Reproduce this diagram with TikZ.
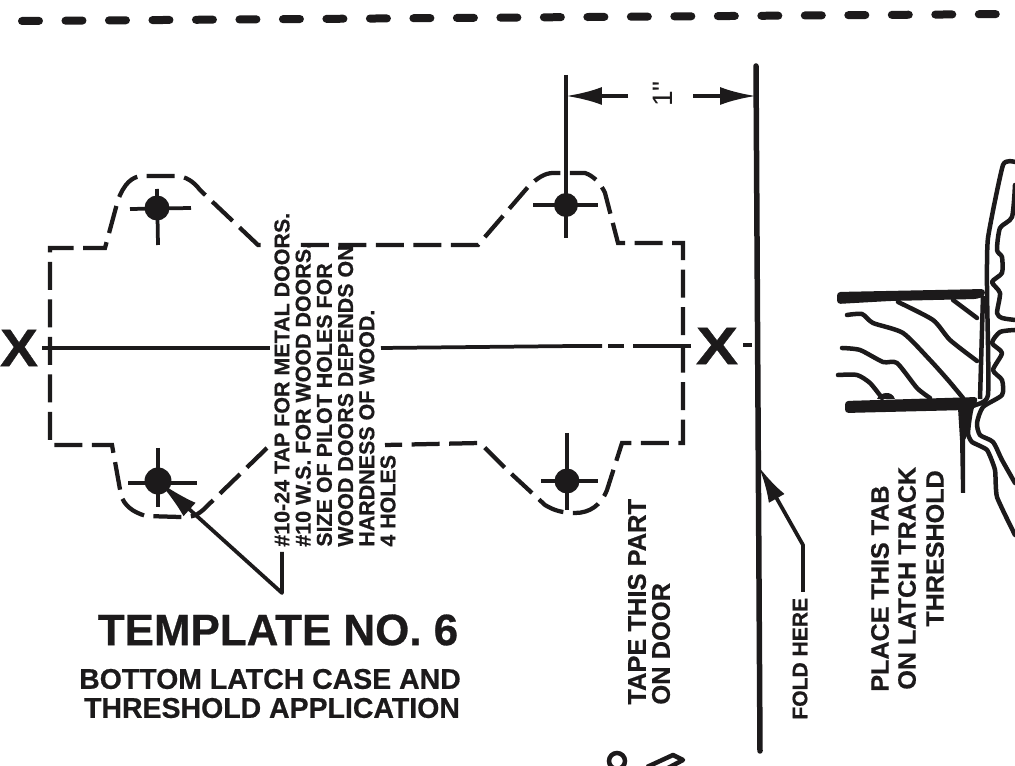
\documentclass[tikz,border=0pt]{standalone}
\usepackage{fontspec}
\setmainfont{Liberation Sans}[BoldFeatures={FakeBold=0.6}]
\newfontfamily\inchfont{Liberation Sans}[BoldFeatures={FakeBold=0.6}]
\usetikzlibrary{arrows.meta}
\definecolor{ink}{HTML}{1C1A1B}

\tikzset{
  outline/.style={ink, line width=0.085cm, dash pattern=on 0.56cm off 0.19cm},
  solid line/.style={ink, line width=0.075cm},
  profile/.style={ink, line width=0.09cm, line join=round, line cap=round},
  grain/.style={ink, line width=0.09cm, line cap=round},
  label/.style={ink, inner sep=0pt, rotate=90, font=\bfseries\fontsize{14.5pt}{15pt}\selectfont},
  note/.style={ink, inner sep=0pt, font=\bfseries\fontsize{16.2pt}{16pt}\selectfont},
  hole/.style={ink, inner sep=0pt, circle, fill},
  head/.style={-{Latex[length=0.72cm, width=0.36cm]}},
  mark x/.style={ink, inner sep=0pt, font=\bfseries\fontsize{30pt}{30pt}\selectfont},
}

\begin{document}
\begin{tikzpicture}[x=0.02cm, y=-0.02cm]
  \clip (0,0) rectangle (1015,766);
  \fill[white] (0,0) rectangle (1015,766);

  % holes
  \node [hole, minimum size=0.5cm](holea) at (157,208) {};
  \node [hole, minimum size=0.54cm](holeb) at (158,481) {};
  \node [hole, minimum size=0.48cm](holec) at (566,205) {};
  \node [hole, minimum size=0.5cm](holed) at (567,481) {};

  \draw[solid line] (130,209) -- (191,208) (157,189) -- (158,245);
  \draw[solid line] (128,483) -- (197,483) (158,448) -- (158,507);
  \draw[solid line] (533,205) -- (598,205) (566,75) -- (566,238);
  \draw[solid line] (541,481) -- (598,481) (567,433) -- (567,510);

  % fold line at the top
  \draw[ink, line width=0.16cm, line cap=round, dash pattern=on 0.34cm off 0.53cm] (22,21) -- (1015,14);

  % template outline
  \draw[outline] (267,448) -- (203,510) .. controls (195,517) and (190,517) .. (180,517)
    -- (146,516) .. controls (132,512) and (124,505) .. (121,495) -- (112,445) -- (50,445)
    -- (50,248) -- (105,248) -- (118,200) .. controls (124,184) and (132,176) .. (143,176)
    -- (175,176) .. controls (186,176) and (194,182) .. (200,190) -- (258,245) -- (268,245);
  \draw[outline] (303,247) -- (303,245) -- (478,245) -- (528,187) .. controls (537,178) and (545,173) .. (553,173)
    -- (585,173) .. controls (594,176) and (601,184) .. (605,193) -- (618,243) -- (683,243)
    -- (683,443) -- (622,443) -- (607,490) .. controls (601,505) and (590,513) .. (575,513)
    .. controls (562,513) and (553,510) .. (545,505) -- (505,468) -- (480,443) -- (385,445);

  % center line
  \coordinate (centera) at (42,348);
  \coordinate (centerb) at (270,348);
  \draw[solid line] (centera) -- (centerb);
  \draw[solid line] (381,348) -- (575,346) -- (602,346);
  \draw[solid line] (608,346) -- (624,346);
  \draw[solid line] (633,346) -- (691,346);
  \draw[solid line] (743,345) -- (752,345);
  \node [mark x, xscale=1.08](xa) at (19,348) {X};
  \node [mark x, xscale=1.2](xb) at (717,346) {X};

  % dimension
  \coordinate (edge) at (566,96);
  \coordinate (fold) at (756,96);
  \coordinate (dima) at (628,96);
  \coordinate (dimb) at (693,96);
  \draw[solid line, head] (dima) -- (edge);
  \draw[solid line, head] (dimb) -- (fold);
  \node [label, font=\inchfont\fontsize{16pt}{16pt}\selectfont](inch) at (663,94) {1"};
  \draw[ink, line width=0.11cm, line cap=round] (756,66) -- (760,751);

  % text
  \node [ink, inner sep=0pt, rotate=90, anchor=west, align=left, font=\bfseries\fontsize{12.2pt}{12.07pt}\selectfont](size) at (335,547)
    {\#10-24 TAP FOR METAL DOORS.\\ \#10 W.S. FOR WOOD DOORS.\\ SIZE OF PILOT HOLES FOR\\ WOOD DOORS DEPENDS ON\\ HARDNESS OF WOOD.\\ 4 HOLES};
  \node [note, font=\bfseries\fontsize{25pt}{25pt}\selectfont](title) at (278,630) {TEMPLATE NO. 6};
  \node [note](suba) at (270,679) {BOTTOM LATCH CASE AND};
  \node [note](subb) at (272,708) {THRESHOLD APPLICATION};
  \node [label, anchor=west](tapea) at (637,705) {TAPE THIS PART};
  \node [label, anchor=west](tapeb) at (661,705) {ON DOOR};
  \node [label, anchor=west, font=\bfseries\fontsize{12pt}{12pt}\selectfont](foldhere) at (800,720) {FOLD HERE};
  \node [label, anchor=west, font=\bfseries\fontsize{14.3pt}{15pt}\selectfont](placea) at (880,692) {PLACE THIS TAB};
  \node [label, anchor=west, font=\bfseries\fontsize{14.3pt}{15pt}\selectfont](placeb) at (907,690) {ON LATCH TRACK};
  \node [label, anchor=west, font=\bfseries\fontsize{14.3pt}{15pt}\selectfont](placec) at (935,627) {THRESHOLD};

  % leaders
  \coordinate (leadera) at (282,552);
  \coordinate (leaderb) at (282,593);
  \coordinate (leaderc) at (803,592);
  \coordinate (leaderd) at (803,545);
  \draw[solid line, line join=round, -{Latex[length=0.85cm, width=0.36cm]}] (leadera) -- (leaderb) -- (holeb.center);
  \draw[solid line, line join=round, -{Latex[length=0.72cm, width=0.36cm]}] (leaderc) -- (leaderd) -- (759,467);

  % threshold
  \fill[ink, rounded corners=2pt] (837,292) -- (985,289) -- (985,296) -- (977,299) -- (890,301) -- (837,304) -- cycle;
  \fill[ink, rounded corners=2pt] (845,401) -- (978,397) -- (975,408) -- (967,410) -- (845,413) -- cycle;
  \fill[ink] (958,408) -- (971,408) -- (968,433) -- (965,440) -- (965,493) -- (961,493) -- (960,440) -- cycle;
  \draw[ink, line width=0.09cm] (983,296) -- (980,399);
  \fill[ink] (877,399) .. controls (880,392) and (892,390) .. (895,399) -- cycle;

  \draw[profile] plot[smooth, tension=0.3] coordinates {(1015,162) (1003,165) (988,238) (987,290) (988,395) (972,407) (968,433) (972,442) (987,450) (995,470) (997,497) (1015,535)};
  \draw[profile] plot[smooth, tension=0.4] coordinates {(1015,185) (1012,217) (1000,228) (997,250) (1002,257) (1002,273) (992,282) (1000,293) (997,313) (1002,318) (1015,320)};
  \draw[profile] plot[smooth, tension=0.4] coordinates {(1015,330) (1000,332) (992,343) (1002,353) (993,370) (1002,380) (1002,395) (983,407) (977,423) (980,435) (993,442) (1002,460) (1015,483)};

  \draw[grain] plot[smooth, tension=0.4] coordinates {(953,300) (977,318)};
  \draw[grain] plot[smooth, tension=0.4] coordinates {(898,302) (933,320) (950,340) (977,361)};
  \draw[grain] plot[smooth, tension=0.4] coordinates {(847,315) (862,314) (873,323) (903,333) (930,360) (948,380) (963,398)};
  \draw[grain] plot[smooth, tension=0.4] coordinates {(842,348) (860,350) (883,362) (897,363) (917,388) (930,398)};
  \draw[grain] plot[smooth, tension=0.4] coordinates {(838,375) (857,375) (870,383) (882,398)};

  % next picture below
  \draw[ink, line width=0.09cm] (617,761) circle (8);
  \draw[ink, line width=0.09cm, line join=round] (647,767) -- (673,755) -- (683,760) -- (668,768);
\end{tikzpicture}
\end{document}
